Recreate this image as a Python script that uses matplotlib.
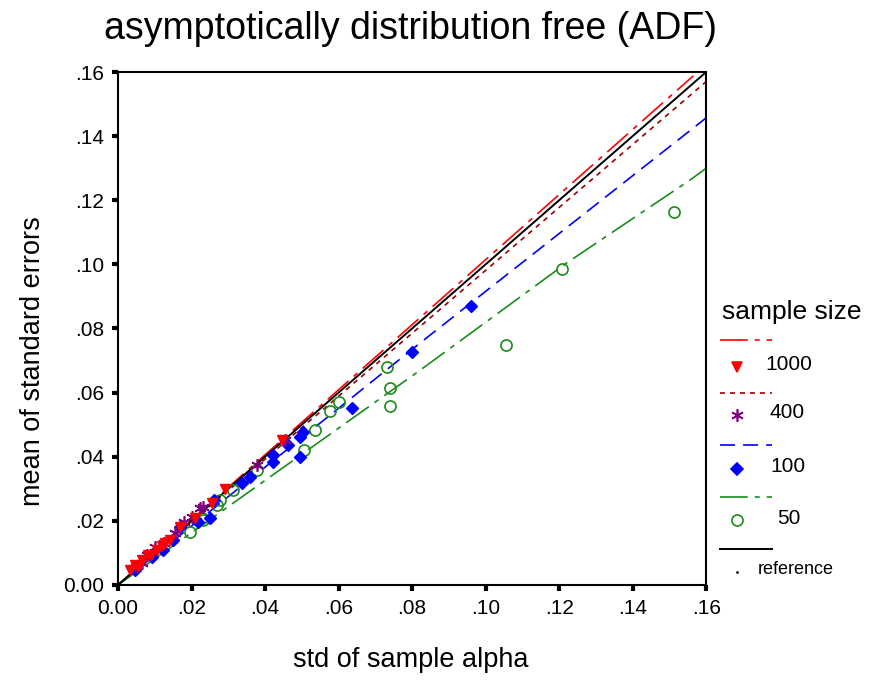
import matplotlib
matplotlib.use("Agg")
import matplotlib.pyplot as plt
from matplotlib.lines import Line2D

plt.rcParams['font.family'] = ['Liberation Sans', 'DejaVu Sans']
plt.rcParams['lines.scale_dashes'] = False

# scatter data: std of sample alpha (x) vs mean of standard errors (y)
x_1000 = [0.0033, 0.0046, 0.0055, 0.0066, 0.0082, 0.0090, 0.0106, 0.0120, 0.0128,
          0.0141, 0.0169, 0.0210, 0.0256, 0.0291, 0.0446]
y_1000 = [0.0047, 0.0062, 0.0060, 0.0078, 0.0094, 0.0095, 0.0109, 0.0120, 0.0131,
          0.0140, 0.0181, 0.0209, 0.0256, 0.0299, 0.0452]

x_400 = [0.0050, 0.0065, 0.0079, 0.0100, 0.0125, 0.0155, 0.0180, 0.0200, 0.0223,
         0.0230, 0.0378, 0.0454]
y_400 = [0.0055, 0.0070, 0.0094, 0.0119, 0.0130, 0.0162, 0.0195, 0.0212, 0.0240,
         0.0243, 0.0374, 0.0452]

x_100 = [0.0046, 0.0093, 0.0122, 0.0150, 0.0169, 0.0218, 0.0250, 0.0260, 0.0337,
         0.0360, 0.0422, 0.0422, 0.0463, 0.0495, 0.0503, 0.0495, 0.0637, 0.0800, 0.0961]
y_100 = [0.0047, 0.0087, 0.0109, 0.0140, 0.0180, 0.0197, 0.0209, 0.0265, 0.0318,
         0.0337, 0.0384, 0.0405, 0.0437, 0.0460, 0.0477, 0.0400, 0.0552, 0.0727, 0.0870]

x_50 = [0.0196, 0.0231, 0.0229, 0.0270, 0.0278, 0.0313, 0.0378, 0.0505, 0.0536,
        0.0577, 0.0601, 0.0732, 0.0740, 0.0740, 0.1056, 0.1208, 0.1513]
y_50 = [0.0165, 0.0203, 0.0209, 0.0250, 0.0265, 0.0296, 0.0359, 0.0421, 0.0483,
        0.0543, 0.0571, 0.0680, 0.0614, 0.0558, 0.0749, 0.0986, 0.1163]

# fit lines
fit_x_1000 = [0.0, 0.1565]
fit_y_1000 = [0.0, 0.1588]
fit_x_400 = [0.0, 0.16]
fit_y_400 = [0.0, 0.157]
fit_x_100 = [0.0, 0.0822, 0.16]
fit_y_100 = [0.0, 0.0755, 0.1457]
fit_x_50 = [0.0, 0.0822, 0.122, 0.1556, 0.16]
fit_y_50 = [0.0, 0.067, 0.1004, 0.1263, 0.130]
ref_x = [0.0, 0.16]
ref_y = [0.0, 0.16]

ticks = [0.0, 0.02, 0.04, 0.06, 0.08, 0.10, 0.12, 0.14, 0.16]
tick_labels = ['0.00', '.02', '.04', '.06', '.08', '.10', '.12', '.14', '.16']

RED = '#ff0000'
DARKRED = '#990000'
PURPLE = '#800080'
BLUE = '#0000ff'
GREEN = '#1a8c1a'

dash_long = (0, (20, 5, 3.6, 5))
dash_short = (0, (3.6, 3.6))
dash_blue = (0, (10.8, 5.8))
asterisk = (6, 2, 0)

fig = plt.figure(figsize=(8.74, 6.89), dpi=100)
ax = fig.add_axes([0.135, 0.151, 0.673, 0.7445])

ax.plot(fit_x_1000, fit_y_1000, color=RED, lw=1.2, linestyle=dash_long)
ax.plot(fit_x_400, fit_y_400, color=DARKRED, lw=1.2, linestyle=dash_short)
ax.plot(fit_x_100, fit_y_100, color=BLUE, lw=1.2, linestyle=dash_blue)
ax.plot(fit_x_50, fit_y_50, color=GREEN, lw=1.2, linestyle=dash_long)
ax.plot(ref_x, ref_y, color='black', lw=1.4)

ax.plot(x_50, y_50, 'o', ms=8, mfc='none', mec=GREEN, mew=1.2, ls='none')
ax.plot(x_100, y_100, 'D', ms=6, color=BLUE, ls='none')
ax.plot(x_400, y_400, marker=asterisk, ms=9, color=PURPLE, mew=1.2, ls='none')
ax.plot(x_1000, y_1000, 'v', ms=7, color=RED, ls='none')

ax.set_xlim(0, 0.16)
ax.set_ylim(0, 0.16)
ax.set_xticks(ticks)
ax.set_xticklabels(tick_labels)
ax.set_yticks(ticks)
ax.set_yticklabels(tick_labels)
ax.tick_params(direction='out', length=4, width=3, labelsize=15, pad=6)
for sp in ax.spines.values():
    sp.set_linewidth(1.5)

fig.text(0.47, 0.958, 'asymptotically distribution free (ADF)', fontsize=27,
         ha='center', va='center')
fig.text(0.47, 0.042, 'std of sample alpha', fontsize=19.5, ha='center', va='center')
fig.text(0.038, 0.476, 'mean of standard errors', fontsize=19.5, ha='center',
         va='center', rotation=90)

# legend drawn by hand in figure pixels
W, H = 874.0, 689.0


def fx(px):
    return px / W


def fy(py):
    return 1 - py / H


fig.text(fx(722), fy(312), 'sample size', fontsize=19, ha='left', va='center')
legend_lines = [(340, RED, dash_long, 1.2), (393, DARKRED, dash_short, 1.2),
                (445, BLUE, dash_blue, 1.2), (497, GREEN, dash_long, 1.2),
                (549, 'black', '-', 1.4)]
for py, c, ls, lw in legend_lines:
    fig.add_artist(Line2D([fx(720), fx(772)], [fy(py), fy(py)], color=c,
                          linestyle=ls, lw=lw, transform=fig.transFigure))

legend_marks = [(367, 'v', RED, RED, 7, '1000', 765),
                (415, asterisk, PURPLE, PURPLE, 9, '400', 770),
                (469, 'D', BLUE, BLUE, 6, '100', 770),
                (520, 'o', 'none', GREEN, 8, '50', 777),
                (572, '.', 'black', 'black', 1.5, 'reference', 758)]
for py, m, fc, ec, ms, lab, tx in legend_marks:
    fig.add_artist(Line2D([fx(737)], [fy(py)], marker=m, mfc=fc, mec=ec, ms=ms,
                          mew=1.2, ls='none', transform=fig.transFigure))
    fs = 13 if lab == 'reference' else 15
    fig.text(fx(tx), fy(py - 2), lab, fontsize=fs, ha='left', va='center')

fig.savefig('out.png', dpi=100)
